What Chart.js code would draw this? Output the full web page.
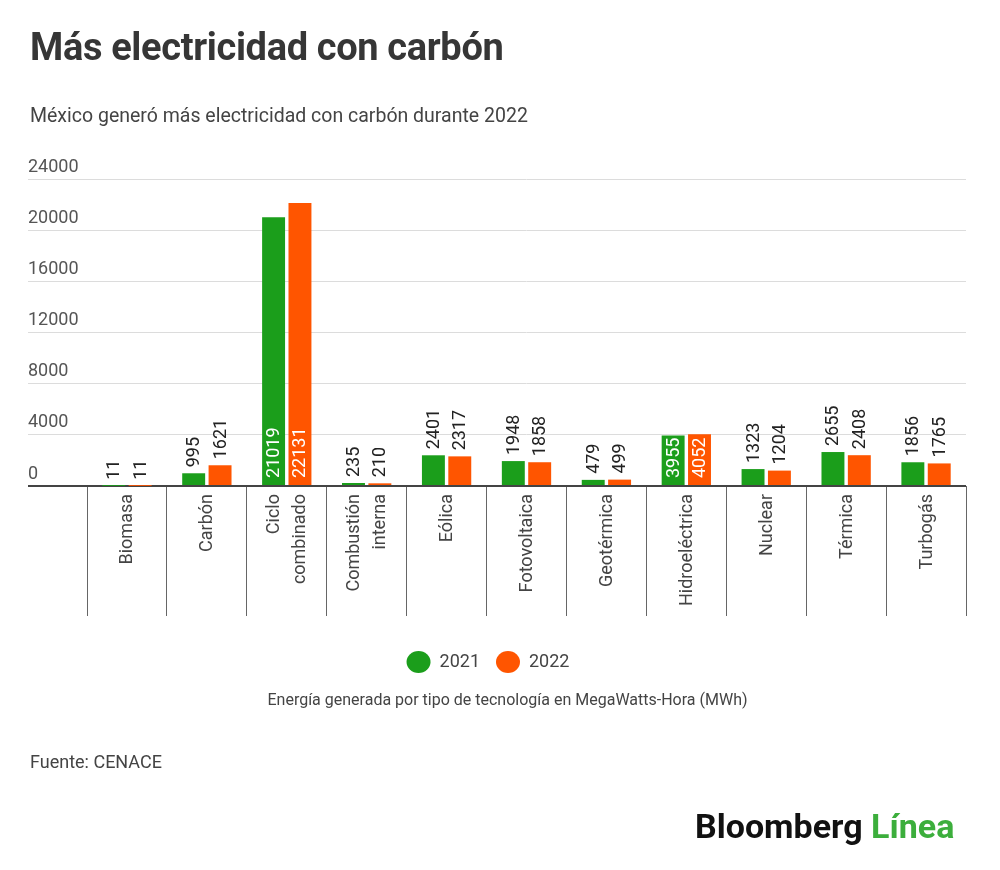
<!DOCTYPE html>
<html lang="es">
<head>
<meta charset="utf-8">
<title>Más electricidad con carbón</title>
<script src="https://cdn.jsdelivr.net/npm/chart.js@4.4.1/dist/chart.umd.min.js"></script>
<style>
  html, body { margin: 0; padding: 0; background: #fff; }
  body { width: 1000px; height: 870px; position: relative; overflow: hidden; font-family: Roboto, "Noto Sans", sans-serif; }
  .txt { position: absolute; white-space: nowrap; }
  #title { left: 30px; top: 22px; font-size: 38px; font-weight: 700; letter-spacing: -0.35px; color: #363636; line-height: 50px; }
  #subtitle { left: 30px; top: 103px; font-size: 19.5px; color: #444; line-height: 26px; }
  #caption { left: 0; width: 1015px; text-align: center; top: 690px; font-size: 16px; color: #444; line-height: 20px; }
  #source { left: 30px; top: 751px; font-size: 18px; color: #444; line-height: 22px; }
  #logo { left: 695px; top: 805px; font-size: 34px; font-weight: 700; letter-spacing: 0px; color: #111; line-height: 42px; }
  #logo span { color: #3cae3c; }
  #wrap { position: absolute; left: 0; top: 0; width: 1000px; height: 870px; }
</style>
</head>
<body>
<div id="wrap"><canvas id="chart" width="1000" height="870"></canvas></div>
<div class="txt" id="title">Más electricidad con carbón</div>
<div class="txt" id="subtitle">México generó más electricidad con carbón durante 2022</div>
<div class="txt" id="caption">Energía generada por tipo de tecnología en MegaWatts-Hora (MWh)</div>
<div class="txt" id="source">Fuente: CENACE</div>
<div class="txt" id="logo">Bloomberg <span>Línea</span></div>

<script>
// ─── Data ────────────────────────────────────────────────────────────────────

const categories = [
  "Biomasa", "Carbón", ["Ciclo", "combinado"], ["Combustión", "interna"], "Eólica",
  "Fotovoltaica", "Geotérmica", "Hidroeléctrica", "Nuclear", "Térmica", "Turbogás"
];
const values2021 = [11, 995, 21019, 235, 2401, 1948, 479, 3955, 1323, 2655, 1856];
const values2022 = [11, 1621, 22131, 210, 2317, 1858, 499, 4052, 1204, 2408, 1765];
const yTicks = [0, 4000, 8000, 12000, 16000, 20000, 24000];

const GREEN  = "#1b9e1b";
const ORANGE = "#ff5500";
const FONT   = "Roboto, 'Noto Sans', sans-serif";

// ─── Value labels on bars ────────────────────────────────────────────────────

const barLabels = {
  id: "barLabels",
  afterDatasetsDraw(chart) {
    const ctx = chart.ctx;
    ctx.save();
    ctx.font = "18px " + FONT;
    ctx.textAlign = "left";
    ctx.textBaseline = "middle";
    chart.data.datasets.forEach((ds, di) => {
      const meta = chart.getDatasetMeta(di);
      meta.data.forEach((bar, i) => {
        const text = String(ds.data[i]);
        const w = ctx.measureText(text).width;
        const h = bar.base - bar.y;
        let y0;
        if (h > w + 8) {
          ctx.fillStyle = "#fff";
          y0 = bar.base - 7;
        } else {
          ctx.fillStyle = "#222";
          y0 = bar.y - 6;
        }
        ctx.save();
        ctx.translate(bar.x, y0);
        ctx.rotate(-Math.PI / 2);
        ctx.fillText(text, 0, 1);
        ctx.restore();
      });
    });
    ctx.restore();
  }
};

// Category names, vertical, with two-line names centred on the tick
// (Chart.js puts the first line on the tick instead)
const categoryLabels = {
  id: "categoryLabels",
  afterDraw(chart) {
    const ctx = chart.ctx;
    const xs = chart.scales.x;
    const lh = 26;
    ctx.save();
    ctx.font = "18px " + FONT;
    ctx.fillStyle = "#444";
    ctx.textAlign = "right";
    ctx.textBaseline = "middle";
    xs.ticks.forEach((t, i) => {
      const lines = [].concat(chart.data.labels[i]);
      ctx.save();
      ctx.translate(xs.getPixelForTick(i), xs.top + 8);
      ctx.rotate(-Math.PI / 2);
      lines.forEach((line, k) => {
        ctx.fillText(line, 0, (k - (lines.length - 1) / 2) * lh + 1);
      });
      ctx.restore();
    });
    ctx.restore();
  }
};

// legend sits a little left of the plot centre in the original
const legendShift = {
  id: "legendShift",
  afterLayout(chart) {
    if (chart.legend) chart.legend.right -= 18;
  }
};

// ─── Chart ───────────────────────────────────────────────────────────────────

new Chart(document.getElementById("chart"), {
  type: "bar",
  data: {
    labels: categories,
    datasets: [
      { label: "2021", data: values2021, backgroundColor: GREEN },
      { label: "2022", data: values2022, backgroundColor: ORANGE }
    ]
  },
  options: {
    responsive: false,
    animation: false,
    layout: { padding: { top: 179, left: 28, right: 34, bottom: 189 } },
    datasets: { bar: { categoryPercentage: 0.66, barPercentage: 0.87 } },
    plugins: {
      legend: {
        position: "bottom",
        labels: {
          usePointStyle: true,
          pointStyle: "circle",
          pointStyleWidth: 24,
          boxHeight: 15.5,
          padding: 16,
          color: "#444",
          font: { family: FONT, size: 18 }
        }
      },
      tooltip: { enabled: false }
    },
    scales: {
      x: {
        border: { display: false },
        grid: {
          offset: true,
          drawOnChartArea: false,
          drawTicks: true,
          tickLength: 130,
          color: "#666",
          lineWidth: 1
        },
        ticks: {
          autoSkip: false,
          display: false
        },
        afterFit(scale) { scale.height = 151; }
      },
      y: {
        min: 0,
        max: 24000,
        border: { display: false },
        afterBuildTicks(scale) { scale.ticks = yTicks.map(v => ({ value: v })); },
        grid: {
          tickLength: 59,
          color: c => (c.tick && c.tick.value === 0 ? "#444" : "#dcdcdc"),
          lineWidth: c => (c.tick && c.tick.value === 0 ? 2 : 1)
        },
        ticks: {
          crossAlign: "far",
          labelOffset: -12,
          color: "#555",
          font: { family: FONT, size: 18 },
          callback: v => String(v)
        },
        afterFit(scale) { scale.width = 59; }
      }
    }
  },
  plugins: [barLabels, categoryLabels, legendShift]
});
</script>
</body>
</html>
